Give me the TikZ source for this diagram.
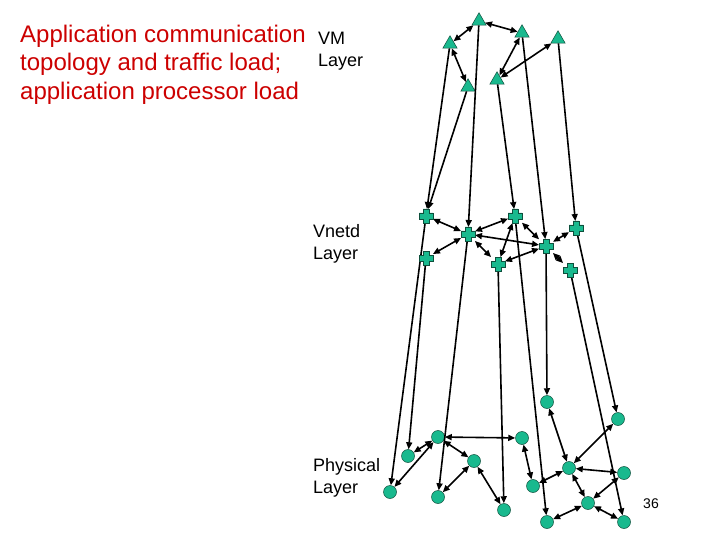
\documentclass[tikz,border=0pt]{standalone}
\usepackage{fontspec}
\setmainfont{Liberation Sans}
\usetikzlibrary{arrows.meta,calc,shapes.geometric}
\definecolor{NetTeal}{HTML}{19B98E}
\definecolor{NetEdge}{HTML}{0E4F3C}
\definecolor{TitleRed}{HTML}{CC0000}

\begin{document}
\begin{tikzpicture}[x=1pt,y=-1pt,
  vmnode/.style={regular polygon,regular polygon sides=3,minimum size=16.5pt,inner sep=0pt,
    fill=NetTeal,draw=NetEdge,line width=0.5pt},
  vnetnode/.style={rectangle,minimum size=13.5pt,inner sep=0pt},
  physnode/.style={circle,minimum size=13pt,inner sep=0pt,fill=NetTeal,draw=NetEdge,line width=0.5pt},
  plusmark/.style={fill=NetTeal,draw=NetEdge,line width=0.5pt},
  titletext/.style={font=\fontsize{24}{28.5}\selectfont,text=TitleRed,align=left,anchor=north west,inner sep=0pt},
  layerlabel/.style={font=\fontsize{18}{22}\selectfont,align=left,anchor=north west,inner sep=0pt},
  peer/.style={{Triangle[length=7pt,width=6pt]}-{Triangle[length=7pt,width=6pt]},line width=1.6pt},
  mapline/.style={-{Triangle[length=7pt,width=6pt]},line width=1.6pt}
]
\useasboundingbox (0,0) rectangle (720,540);
% labels
\node[titletext] (title) at (20,24.5) {Application communication\\topology and traffic load;\\application processor load};
\node[layerlabel] (vmlabel) at (318,32) {VM\\Layer};
\node[layerlabel] (vnlabel) at (313,224.5) {Vnetd\\Layer};
\node[layerlabel] (phlabel) at (313,458.5) {Physical\\Layer};
\node[font=\fontsize{14}{16}\selectfont,inner sep=0pt] (slideno) at (651,504) {36};
% VM layer
\node[vmnode] (vmA) at (479,21) {};
\node[vmnode] (vmB) at (450,44) {};
\node[vmnode] (vmC) at (522,33) {};
\node[vmnode] (vmD) at (558,39) {};
\node[vmnode] (vmE) at (468,87) {};
\node[vmnode] (vmF) at (497,80) {};
% Vnetd layer
\node[vnetnode] (vnA) at (426,216) {};
\node[vnetnode] (vnB) at (468,234) {};
\node[vnetnode] (vnC) at (515,216) {};
\node[vnetnode] (vnD) at (576,228) {};
\node[vnetnode] (vnE) at (426,258) {};
\node[vnetnode] (vnF) at (498,264) {};
\node[vnetnode] (vnG) at (546,246) {};
\node[vnetnode] (vnH) at (570,270) {};
% Physical layer
\node[physnode] (phA) at (438,437) {};
\node[physnode] (phB) at (408,456) {};
\node[physnode] (phC) at (474,461) {};
\node[physnode] (phD) at (522,438) {};
\node[physnode] (phE) at (547,402) {};
\node[physnode] (phF) at (618,419) {};
\node[physnode] (phG) at (390,492) {};
\node[physnode] (phH) at (438,497) {};
\node[physnode] (phI) at (504,510) {};
\node[physnode] (phJ) at (533,486) {};
\node[physnode] (phK) at (569,468) {};
\node[physnode] (phL) at (624,473) {};
\node[physnode] (phM) at (588,503) {};
\node[physnode] (phN) at (547,522) {};
\node[physnode] (phO) at (624,522) {};
% VM links
\draw[peer] (vmA) -- (vmB);
\draw[peer] (vmA) -- (vmC);
\draw[peer] (vmB) -- (vmE);
\draw[peer] (vmC) -- (vmF);
\draw[peer] (vmD) -- (vmF);
% VM to Vnetd
\draw[mapline] (vmB) -- (vnA);
\draw[mapline] (vmE) -- (vnA);
\draw[mapline] (vmA) -- (vnB);
\draw[mapline] (vmF) -- (vnC);
\draw[mapline] (vmC) -- (vnG);
\draw[mapline] (vmD) -- (vnD);
% Vnetd links
\draw[peer] (vnA) -- (vnB);
\draw[peer] (vnB) -- (vnC);
\draw[peer] (vnB) -- (vnE);
\draw[peer] (vnB) -- (vnF);
\draw[peer] (vnB) -- (vnG);
\draw[peer] (vnC) -- (vnF);
\draw[peer] (vnC) -- (vnG);
\draw[peer] (vnF) -- (vnG);
\draw[peer] (vnG) -- (vnD);
\draw[peer] (vnG) -- (vnH);
% Vnetd to Physical
\draw[mapline] (vnA) -- (phG);
\draw[mapline] (vnE) -- (phB);
\draw[mapline] (vnB) -- (phH);
\draw[mapline] (vnF) -- (phI);
\draw[mapline] (vnC) -- (phN);
\draw[mapline] (vnG) -- (phE);
\draw[mapline] (vnH) -- (phO);
\draw[mapline] (vnD) -- (phF);
% Physical links
\draw[peer] (phA) -- (phB);
\draw[peer] (phA) -- (phG);
\draw[peer] (phA) -- (phC);
\draw[peer] (phC) -- (phH);
\draw[peer] (phC) -- (phI);
\draw[peer] (phA) -- (phD);
\draw[peer] (phD) -- (phJ);
\draw[peer] (phE) -- (phK);
\draw[peer] (phF) -- (phK);
\draw[peer] (phK) -- (phJ);
\draw[peer] (phK) -- (phL);
\draw[peer] (phK) -- (phM);
\draw[peer] (phL) -- (phM);
\draw[peer] (phM) -- (phN);
\draw[peer] (phM) -- (phO);
% plus marks for the Vnetd nodes
\foreach \n in {vnA,vnB,vnC,vnD,vnE,vnF,vnG,vnH}
  \draw[plusmark] ($(\n)+(-3,-7)$) -- ++(6,0) -- ++(0,4) -- ++(4,0) -- ++(0,6)
    -- ++(-4,0) -- ++(0,4) -- ++(-6,0) -- ++(0,-4) -- ++(-4,0) -- ++(0,-6)
    -- ++(4,0) -- cycle;
\end{tikzpicture}
\end{document}
